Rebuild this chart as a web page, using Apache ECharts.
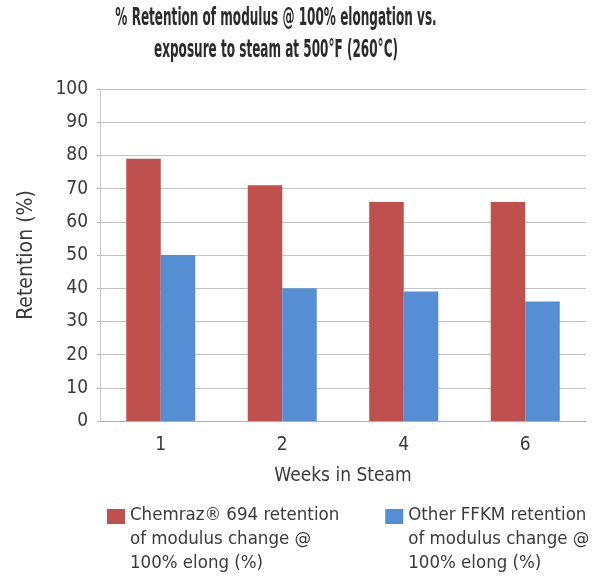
<!DOCTYPE html>
<html>
<head>
<meta charset="utf-8">
<script src="https://cdn.jsdelivr.net/npm/echarts@6/dist/echarts.min.js"></script>
<style>html,body{margin:0;padding:0;background:#fff}#c{width:607px;height:583px}</style>
</head>
<body>
<div id="c"></div>
<script>
var categories = ['1', '2', '4', '6'];
var chemrazValues = [79, 71, 66, 66];
var otherValues = [50, 40, 39, 36];
var yTicks = [0, 10, 20, 30, 40, 50, 60, 70, 80, 90, 100];
var seriesNames = ['Chemraz\u00AE 694 retention\nof modulus change @\n100% elong (%)', 'Other FFKM retention\nof modulus change @\n100% elong (%)'];
var titleLines = ['% Retention of modulus @ 100% elongation vs.', 'exposure to steam at 500\u00B0F (260\u00B0C)'];

var NARROW = "'Liberation Sans Narrow', 'DejaVu Sans Condensed', 'Roboto Condensed', sans-serif";
var chart = echarts.init(document.getElementById('c'), null, {renderer: 'canvas'});
var legendIcon = 'path://M0,0H0.05V0.05H0Z M0,5H18V20H0Z M0,70H0.05V70.05H0Z';
var titleStyle = {fontFamily: "'DejaVu Sans Condensed', sans-serif", fontWeight: 'bold', fontSize: 20, fill: '#2b2b2b', textAlign: 'center', textVerticalAlign: 'middle'};
chart.setOption({
  animation: false,
  backgroundColor: '#fff',
  graphic: [
    {type: 'text', x: 276, y: 19, scaleX: 0.67, scaleY: 1.22, style: Object.assign({text: titleLines[0]}, titleStyle)},
    {type: 'text', x: 276, y: 51, scaleX: 0.67, scaleY: 1.22, style: Object.assign({text: titleLines[1]}, titleStyle)}
  ],
  grid: {left: 100, right: 21, top: 89, bottom: 162},
  xAxis: {
    type: 'category', data: categories,
    name: 'Weeks in Steam', nameLocation: 'middle', nameGap: 46,
    nameTextStyle: {fontFamily: NARROW, fontSize: 19, color: '#3a3a3a'},
    axisLine: {lineStyle: {color: '#b0b0b0', width: 1}},
    axisTick: {show: false},
    axisLabel: {fontFamily: NARROW, fontSize: 19, color: '#3a3a3a', margin: 15}
  },
  yAxis: {
    type: 'value', min: 0, max: 100, interval: 10,
    name: 'Retention (%)', nameLocation: 'middle', nameGap: 63, nameRotate: 90,
    nameTextStyle: {fontFamily: NARROW, fontSize: 21, color: '#3a3a3a'},
    axisLine: {show: true, lineStyle: {color: '#c8c8c8'}},
    axisTick: {show: true, length: 3, lineStyle: {color: '#b8b8b8'}},
    splitLine: {lineStyle: {color: '#c4c4c4', width: 1}},
    axisLabel: {fontFamily: NARROW, fontSize: 19, color: '#3a3a3a', margin: 12,
      formatter: function (v) { return yTicks.indexOf(v) >= 0 ? String(v) : ''; }}
  },
  legend: {
    bottom: 8, left: 107, itemGap: 46, padding: 0,
    icon: legendIcon, itemWidth: 18, itemHeight: 70,
    textStyle: {fontFamily: NARROW, fontSize: 18.5, color: '#3a3a3a', lineHeight: 24},
    data: seriesNames
  },
  series: [
    {name: seriesNames[0], type: 'bar', data: chemrazValues, barWidth: '28.4%', barGap: '0%', itemStyle: {color: '#c0504d'}},
    {name: seriesNames[1], type: 'bar', data: otherValues, barWidth: '28.4%', barGap: '0%', itemStyle: {color: '#558ed5'}}
  ]
});
</script>
</body>
</html>
